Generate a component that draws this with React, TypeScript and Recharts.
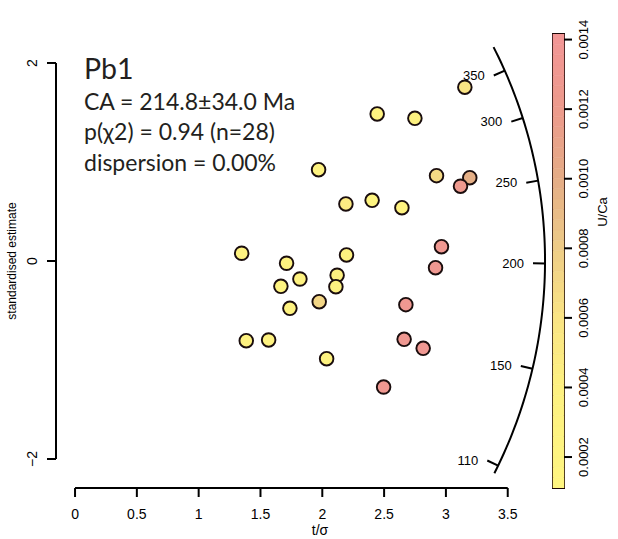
import { ComposedChart, Scatter, Bar, XAxis, YAxis, ReferenceLine, ReferenceArea } from 'recharts';

// measurements: t/sigma, standardised estimate, U/Ca
const tSigma = [
  3.153, 2.444, 2.749, 1.970, 2.924, 3.193, 3.118, 2.191, 2.403, 2.644,
  1.348, 1.711, 2.196, 2.964, 2.916, 1.819, 1.665, 2.120, 2.110, 1.975,
  1.738, 2.676, 1.385, 1.566, 2.662, 2.816, 2.035, 2.496,
];
const zScore = [
  1.755, 1.485, 1.441, 0.922, 0.862, 0.841, 0.755, 0.576, 0.613, 0.538,
  0.078, -0.023, 0.061, 0.144, -0.068, -0.182, -0.256, -0.144, -0.260, -0.411,
  -0.478, -0.441, -0.805, -0.798, -0.791, -0.882, -0.987, -1.273,
];
const uCa = [
  0.0006, 0.0003, 0.00035, 0.0003, 0.00068, 0.00098, 0.00125, 0.0005, 0.0002, 0.0003,
  0.0003, 0.0003, 0.00035, 0.00132, 0.0013, 0.0003, 0.00025, 0.0004, 0.00035, 0.00072,
  0.0003, 0.0013, 0.00035, 0.0003, 0.0013, 0.00133, 0.0003, 0.00132,
];

const ageTicks = [110, 150, 200, 250, 300, 350];
const xTicks = [0, 0.5, 1, 1.5, 2, 2.5, 3, 3.5];
const yTicks = [-2, 0, 2];
const ucaTicks = [0.0002, 0.0004, 0.0006, 0.0008, 0.001, 0.0012, 0.0014];
const ucaRange: [number, number] = [0.000111, 0.001416];

const X_DOMAIN: [number, number] = [-0.154, 3.85];
const Y_DOMAIN: [number, number] = [-2.293, 2.333];
const PX_X = 123.63; // px per unit on screen
const PX_Y = 99;
const AGE_REF = 201.3;
const ARC_AGES: [number, number] = [107, 381];
const ARC_PX = 470;
const TICK_PX = 12;
const N_CELLS = 44;

const FONT = '"Liberation Sans", Arial, sans-serif';

// colour ramp for U/Ca
const rampStops: [number, number[]][] = [
  [0.00011, [255, 246, 128]],
  [0.0004, [253, 240, 128]],
  [0.0006, [250, 228, 132]],
  [0.0008, [238, 204, 135]],
  [0.001, [228, 172, 134]],
  [0.0012, [236, 154, 140]],
  [0.00142, [243, 150, 150]],
];
function ucaColor(v: number) {
  for (let i = 1; i < rampStops.length; i++) {
    const [v1, c1] = rampStops[i];
    const [v0, c0] = rampStops[i - 1];
    if (v <= v1 || i === rampStops.length - 1) {
      const f = Math.max(0, Math.min(1, (v - v0) / (v1 - v0)));
      const c = c0.map((a, k) => Math.round(a + (c1[k] - a) * f));
      return `rgb(${c[0]},${c[1]},${c[2]})`;
    }
  }
  return '#fff';
}

const angleOf = (age: number) => Math.atan2(PX_Y * Math.log(age / AGE_REF), PX_X);
const onArc = (phi: number, r: number) => ({ x: (r / PX_X) * Math.cos(phi), y: (r / PX_Y) * Math.sin(phi) });

const points = tSigma.map((x, i) => ({ x, y: zScore[i], u: uCa[i] }));

const arcPts: { x: number; y: number }[] = [];
{
  const a0 = angleOf(ARC_AGES[0]);
  const a1 = angleOf(ARC_AGES[1]);
  for (let k = 0; k <= 80; k++) arcPts.push(onArc(a0 + ((a1 - a0) * k) / 80, ARC_PX));
}
const arcTicks = ageTicks.map((age) => {
  const phi = angleOf(age);
  return { age, outer: onArc(phi, ARC_PX), inner: onArc(phi, ARC_PX - TICK_PX) };
});
const arcLabels = arcTicks.map((t) => ({ ...t.inner, label: String(t.age) }));

// colour bar as a stack of thin cells
const cellStep = (ucaRange[1] - ucaRange[0]) / N_CELLS;
const cellColors = Array.from({ length: N_CELLS }, (_, i) => ucaColor(ucaRange[0] + cellStep * (i + 0.5)));
const barRow: Record<string, number | string> = { name: 'U/Ca', base: ucaRange[0] };
cellColors.forEach((_, i) => { barRow[`c${i}`] = cellStep; });
const barData = [barRow];

const YTick = ({ x, y, payload }: any) => (
  <text x={x - 4} y={y} transform={`rotate(-90 ${x - 4} ${y})`} textAnchor="middle" fontSize={14} fontFamily={FONT} fill="#000">
    {payload.value < 0 ? `\u2212${Math.abs(payload.value)}` : payload.value}
  </text>
);

const BarTick = ({ x, y, payload }: any) => (
  <text x={x + 14} y={y} transform={`rotate(-90 ${x + 14} ${y})`} textAnchor="middle" fontSize={13} fontFamily={FONT} fill="#000">
    {payload.value.toFixed(4)}
  </text>
);

export default function App() {
  return (
    <div style={{ position: 'absolute', left: 0, top: 0, width: 618, height: 539, background: '#fff' }}>
      <div style={{ position: 'absolute', left: 0, top: 0 }}>
        <ComposedChart width={618} height={539} margin={{ top: 30, right: 67, bottom: 0, left: 0 }}>
          <XAxis
            dataKey="x" type="number" domain={X_DOMAIN} ticks={xTicks} interval={0}
            allowDataOverflow axisLine={false} height={51} tickSize={9} tickMargin={12}
            tickLine={{ stroke: '#000', strokeWidth: 2 }}
            tick={{ fontSize: 14, fill: '#000', fontFamily: FONT }}
          />
          <YAxis
            dataKey="y" type="number" domain={Y_DOMAIN} ticks={yTicks} interval={0}
            allowDataOverflow axisLine={false} width={56} tickSize={9} tickMargin={6}
            tickLine={{ stroke: '#000', strokeWidth: 2 }} tick={<YTick />}
          />
          <ReferenceLine segment={[{ x: 0, y: Y_DOMAIN[0] }, { x: 3.5, y: Y_DOMAIN[0] }]} stroke="#000" strokeWidth={2} ifOverflow="visible" />
          <ReferenceLine segment={[{ x: X_DOMAIN[0], y: -2 }, { x: X_DOMAIN[0], y: 2 }]} stroke="#000" strokeWidth={2} ifOverflow="visible" />
          <Scatter
            data={arcPts} line={{ stroke: '#000', strokeWidth: 2 }} lineType="joint"
            shape={() => <g />} isAnimationActive={false}
          />
          {arcTicks.map((t) => (
            <ReferenceLine key={t.age} segment={[t.outer, t.inner]} stroke="#000" strokeWidth={2} ifOverflow="visible" />
          ))}
          <Scatter
            data={arcLabels} isAnimationActive={false}
            shape={(p: any) => (
              <text x={p.cx - 9} y={p.cy} textAnchor="end" dominantBaseline="central" fontSize={13} fontFamily={FONT} fill="#000">
                {p.payload.label}
              </text>
            )}
          />
          <Scatter
            data={points} isAnimationActive={false}
            shape={(p: any) => (
              <circle cx={p.cx} cy={p.cy} r={6.8} fill={ucaColor(p.payload.u)} stroke="#1a0d0d" strokeWidth={1.9} />
            )}
          />
        </ComposedChart>
      </div>

      <div style={{ position: 'absolute', left: 540, top: 0 }}>
        <ComposedChart
          width={78} height={539} data={barData} barCategoryGap={0} barGap={0}
          margin={{ top: 34, right: 0, bottom: 51, left: 13 }}
        >
          <XAxis type="category" dataKey="name" hide height={0} />
          <YAxis
            type="number" orientation="right" domain={ucaRange} ticks={ucaTicks}
            interval={0} allowDataOverflow axisLine={false} width={54} tickSize={8}
            tickLine={{ stroke: '#000', strokeWidth: 2 }} tick={<BarTick />}
          />
          <Bar dataKey="base" stackId="s" fill="none" isAnimationActive={false} />
          {cellColors.map((c, i) => (
            <Bar key={i} dataKey={`c${i}`} stackId="s" fill={c} stroke={c} strokeOpacity={0.5} isAnimationActive={false} />
          ))}
          <ReferenceArea y1={ucaRange[0]} y2={ucaRange[1]} fill="none" stroke="#1a0505" strokeWidth={2} ifOverflow="visible" />
        </ComposedChart>
      </div>

      <svg width={618} height={539} style={{ position: 'absolute', left: 0, top: 0, pointerEvents: 'none' }}>
        <g fontFamily="Lato, sans-serif" fill="#231f20">
          <text x={84} y={79} fontSize={28.5}>Pb1</text>
          <text x={84} y={110} fontSize={23}>CA = 214.8±34.0 Ma</text>
          <text x={84} y={140} fontSize={23}>p(χ2) = 0.94 (n=28)</text>
          <text x={84} y={171} fontSize={23}>dispersion = 0.00%</text>
        </g>
        <text x={16} y={261} transform="rotate(-90 16 261)" textAnchor="middle" fontSize={12} fontFamily={FONT}>standardised estimate</text>
        <text x={320} y={535} textAnchor="middle" fontSize={14} fontFamily={FONT}>t/σ</text>
        <text x={607} y={212} transform="rotate(-90 607 212)" textAnchor="middle" fontSize={13} fontFamily={FONT}>U/Ca</text>
      </svg>
    </div>
  );
}
